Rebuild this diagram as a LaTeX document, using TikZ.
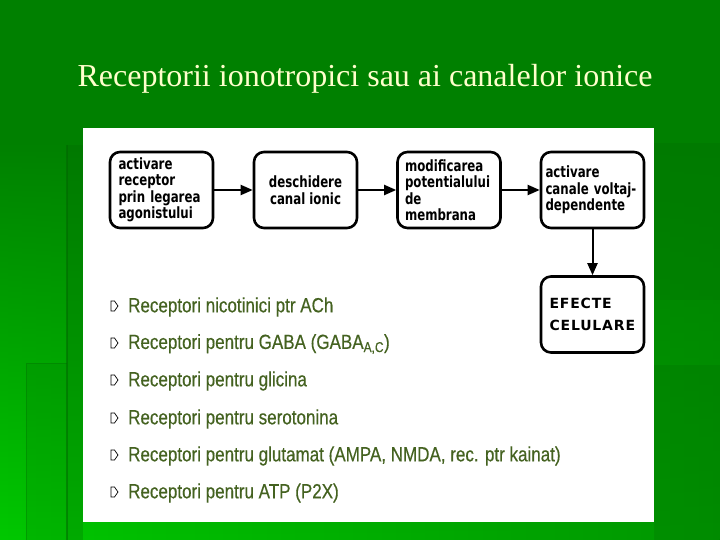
\documentclass[tikz,border=0pt]{standalone}
\usepackage{fontspec}
\setmainfont{Liberation Serif}
\newfontfamily\boxfont[FakeStretch=0.76]{DejaVu Sans}
\newfontfamily\capfont[LetterSpace=6]{DejaVu Sans}
\newfontfamily\listfont[FakeStretch=0.83,FakeBold=0.4]{Liberation Sans}
\usetikzlibrary{arrows.meta,fadings}
\definecolor{bgdark}{RGB}{0,128,0}
\definecolor{bglight}{RGB}{0,200,0}
\definecolor{bgright}{RGB}{0,150,0}
\definecolor{titlecol}{RGB}{255,255,204}
\definecolor{itemcol}{RGB}{68,98,32}
\definecolor{linecol}{RGB}{0,100,0}

\begin{document}
\begin{tikzpicture}[x=1pt, y=-1pt,
    box/.style={draw, line width=2.6pt, rounded corners=10pt, fill=white,
        minimum width=103pt, minimum height=76pt, inner sep=0pt,
        font=\boxfont\bfseries\fontsize{15.5}{16.5}\selectfont},
    item/.style={anchor=west, inner sep=0pt, text=itemcol,
        font=\listfont\fontsize{20.5}{24}\selectfont},
    bul/.style={line width=0.7pt, line join=miter},
    >={Triangle[length=12pt, width=10pt]}]
    % background
    \useasboundingbox (0,0) rectangle (720,540);
    \fill[bgdark] (0,0) rectangle (720,540);
    \shade[left color=bglight, right color=bgright, path fading=north]
        (0,140) rectangle (720,540);
    \fill[linecol, opacity=0.25] (67,145) rectangle (83,540);
    \fill[linecol, opacity=0.15] (26,363) rectangle (67,540);
    \draw[linecol, opacity=0.5, line width=1.5pt] (67,145) -- (67,540);
    \draw[linecol, opacity=0.3, line width=1pt] (26,540) -- (26,363) -- (67,363);
    \fill[linecol, opacity=0.2] (654,143) rectangle (720,300);
    \fill[linecol, opacity=0.2] (654,365) rectangle (720,540);

    % title
    \node[text=titlecol, font=\fontsize{32}{36}\selectfont, anchor=base]
        (title) at (365,87) {Receptorii ionotropici sau ai canalelor ionice};

    % white panel
    \fill[white] (83,128) rectangle (654,522);

    % flow boxes
    \node[box, text width=86pt, align=left] (act) at (161.5,190)
        {activare\\receptor\\prin legarea\\agonistului};
    \node[box, align=center] (des) at (305.5,190) {deschidere\\canal ionic};
    \node[box, text width=88pt, align=left] (mod) at (449,190)
        {modificarea\\potentialului\\de\\membrana};
    \node[box, text width=94pt, align=left] (can) at (592.5,190)
        {activare\\canale voltaj-\\dependente};
    \node[box, text width=86pt, align=left,
        font=\capfont\bfseries\fontsize{14}{22}\selectfont] (ef) at (592.5,314.5)
        {EFECTE\\CELULARE};

    \draw[->, line width=2pt] (act) -- (des);
    \draw[->, line width=2pt] (des) -- (mod);
    \draw[->, line width=2pt] (mod) -- (can);
    \draw[->, line width=2pt] (can) -- (ef);

    % receptor list
    \node[item] (r1) at (128,307) {Receptori nicotinici ptr ACh};
    \node[item] (r2) at (128,344) {Receptori pentru GABA (GABA\textsubscript{A,C})};
    \node[item] (r3) at (128,381) {Receptori pentru glicina};
    \node[item] (r4) at (128,419) {Receptori pentru serotonina};
    \node[item] (r5) at (128,456) {Receptori pentru glutamat (AMPA, NMDA, rec. ptr kainat)};
    \node[item] (r6) at (128,493) {Receptori pentru ATP (P2X)};

    \draw[bul] ([xshift=-17pt,yshift=6pt]r1.west) -- ++(3.5,0) -- ++(3.5,5) -- ++(-3.5,5) -- ++(-3.5,0) -- cycle;
    \draw[bul] ([xshift=-17pt,yshift=6pt]r2.west) -- ++(3.5,0) -- ++(3.5,5) -- ++(-3.5,5) -- ++(-3.5,0) -- cycle;
    \draw[bul] ([xshift=-17pt,yshift=6pt]r3.west) -- ++(3.5,0) -- ++(3.5,5) -- ++(-3.5,5) -- ++(-3.5,0) -- cycle;
    \draw[bul] ([xshift=-17pt,yshift=6pt]r4.west) -- ++(3.5,0) -- ++(3.5,5) -- ++(-3.5,5) -- ++(-3.5,0) -- cycle;
    \draw[bul] ([xshift=-17pt,yshift=6pt]r5.west) -- ++(3.5,0) -- ++(3.5,5) -- ++(-3.5,5) -- ++(-3.5,0) -- cycle;
    \draw[bul] ([xshift=-17pt,yshift=6pt]r6.west) -- ++(3.5,0) -- ++(3.5,5) -- ++(-3.5,5) -- ++(-3.5,0) -- cycle;
\end{tikzpicture}
\end{document}
